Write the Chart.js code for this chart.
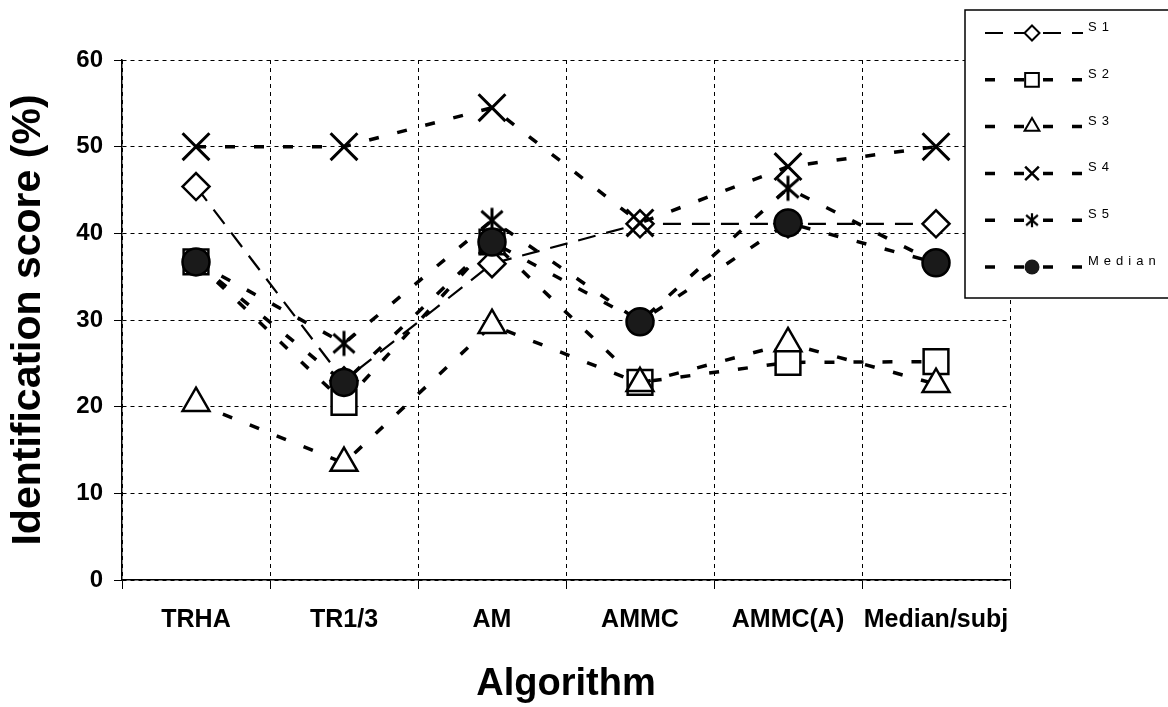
<!DOCTYPE html>
<html>
<head>
<meta charset="utf-8">
<script src="https://cdn.jsdelivr.net/npm/chart.js@4.4.1/dist/chart.umd.min.js"></script>
<style>
  html, body { margin: 0; padding: 0; background: #fff; }
  canvas { display: block; }
</style>
</head>
<body>
<canvas id="chart" width="1168" height="707"></canvas>
<script>
// values
const categories = ['TRHA', 'TR1/3', 'AM', 'AMMC', 'AMMC(A)', 'Median/subj'];
const s1 = [45.4, 23.0, 36.5, 41.1, 41.1, 41.1];
const s2 = [36.7, 20.5, 39.0, 22.8, 25.1, 25.2];
const s3 = [20.4, 13.5, 29.4, 22.7, 27.3, 22.6];
const s4 = [50.0, 50.0, 54.5, 41.2, 47.7, 50.0];
const s5 = [36.7, 27.3, 41.5, 29.8, 45.2, 36.6];
const median = [36.7, 22.8, 39.0, 29.8, 41.2, 36.6];
const yTicks = [0, 10, 20, 30, 40, 50, 60];

const FONT = "'Liberation Sans', Arial, sans-serif";

// asterisk marker (vertical bar + X), like the old Excel one
function makeStar(size, lw) {
  const c = document.createElement('canvas');
  c.width = size; c.height = size;
  const g = c.getContext('2d');
  g.strokeStyle = '#000';
  g.lineWidth = lw;
  const m = size / 2, r = size / 2 - lw / 2;
  g.beginPath();
  g.moveTo(m, m - r); g.lineTo(m, m + r);
  g.moveTo(m - r * 0.85, m - r * 0.75); g.lineTo(m + r * 0.85, m + r * 0.75);
  g.moveTo(m + r * 0.85, m - r * 0.75); g.lineTo(m - r * 0.85, m + r * 0.75);
  g.stroke();
  return c;
}
const starBig = makeStar(28, 3);
const starSmall = makeStar(16, 2.2);

function series(label, data, style, radius, fill, dash, width, order) {
  return {
    label: label,
    data: data,
    borderColor: '#000',
    borderWidth: width,
    borderDash: dash,
    fill: false,
    tension: 0,
    pointStyle: style,
    pointRadius: radius,
    pointHoverRadius: radius,
    pointBorderWidth: 2.5,
    pointBorderColor: '#000',
    pointBackgroundColor: fill,
    order: order
  };
}

const datasets = [
  series('S1', s1, 'rectRot', 13.5, '#fff', [18, 11], 2.2, 6),
  series('S2', s2, 'rect', 17.5, '#fff', [10, 19], 3.5, 5),
  series('S3', s3, 'triangle', 15.5, '#fff', [10, 19], 3.5, 4),
  series('S4', s4, 'crossRot', 19, '#fff', [10, 19], 3.5, 3),
  series('S5', s5, starBig, 14, '#fff', [10, 19], 3.5, 2),
  series('Median', median, 'circle', 13.5, '#1a1a1a', [10, 19], 3.5, 1)
];
datasets[3].pointBorderWidth = 3;

function drawMarker(ctx, style, x, y, r) {
  ctx.save();
  ctx.setLineDash([]);
  ctx.strokeStyle = '#000';
  ctx.lineWidth = 2;
  ctx.fillStyle = '#fff';
  ctx.beginPath();
  if (style === 'rectRot') {
    ctx.moveTo(x, y - r); ctx.lineTo(x + r, y); ctx.lineTo(x, y + r); ctx.lineTo(x - r, y); ctx.closePath();
    ctx.fill(); ctx.stroke();
  } else if (style === 'rect') {
    const h = r * 0.72;
    ctx.rect(x - h, y - h, 2 * h, 2 * h);
    ctx.fill(); ctx.stroke();
  } else if (style === 'triangle') {
    ctx.moveTo(x, y - r); ctx.lineTo(x + r * 0.87, y + r * 0.5); ctx.lineTo(x - r * 0.87, y + r * 0.5); ctx.closePath();
    ctx.fill(); ctx.stroke();
  } else if (style === 'crossRot') {
    const h = r * 0.72;
    ctx.lineWidth = 2.5;
    ctx.moveTo(x - h, y - h); ctx.lineTo(x + h, y + h);
    ctx.moveTo(x + h, y - h); ctx.lineTo(x - h, y + h);
    ctx.stroke();
  } else if (style === 'circle') {
    ctx.fillStyle = '#1a1a1a';
    ctx.arc(x, y, r, 0, Math.PI * 2);
    ctx.fill();
  } else {
    ctx.drawImage(starSmall, x - 8, y - 8);
  }
  ctx.restore();
}

// white page behind the chart
const whiteBg = {
  id: 'whiteBg',
  beforeDraw(chart) {
    const ctx = chart.ctx;
    ctx.save();
    ctx.fillStyle = '#fff';
    ctx.fillRect(0, 0, chart.width, chart.height);
    ctx.restore();
  }
};

// legend box in the top right corner, drawn over the plot
const boxLegend = {
  id: 'boxLegend',
  afterDraw(chart) {
    const ctx = chart.ctx;
    const left = 965, top = 10, bottom = 298;
    ctx.save();
    ctx.fillStyle = '#fff';
    ctx.fillRect(left, top, chart.width - left + 5, bottom - top);
    ctx.strokeStyle = '#000';
    ctx.lineWidth = 1.5;
    ctx.strokeRect(left, top, chart.width - left + 5, bottom - top);

    const sizes = [7.5, 9.5, 8.5, 9.5, 8, 7.5];
    chart.data.datasets.forEach((ds, i) => {
      const y = 33 + i * 46.8;
      ctx.save();
      ctx.strokeStyle = '#000';
      ctx.lineWidth = ds.borderWidth;
      ctx.setLineDash(ds.borderDash);
      ctx.beginPath();
      ctx.moveTo(985, y);
      ctx.lineTo(1083, y);
      ctx.stroke();
      ctx.restore();
      drawMarker(ctx, ds.pointStyle, 1032, y, sizes[i]);

      ctx.save();
      ctx.fillStyle = '#000';
      ctx.font = '13px ' + FONT;
      ctx.letterSpacing = '5px';
      ctx.textAlign = 'left';
      ctx.textBaseline = 'bottom';
      ctx.fillText(ds.label, 1088, y + 1);
      ctx.restore();
    });
    ctx.restore();
  }
};

new Chart(document.getElementById('chart'), {
  type: 'line',
  data: { labels: categories, datasets: datasets },
  options: {
    responsive: false,
    animation: false,
    devicePixelRatio: 1,
    layout: { padding: { top: 60, right: 158, left: 0, bottom: 0 } },
    plugins: {
      legend: { display: false },
      tooltip: { enabled: false }
    },
    scales: {
      x: {
        offset: true,
        grid: {
          offset: true,
          color: '#000',
          lineWidth: 1,
          tickLength: 9,
          tickColor: '#000',
          tickWidth: 1
        },
        border: { display: true, color: '#000', width: 1.5, dash: [4, 4] },
        ticks: {
          color: '#000',
          font: { family: FONT, size: 25, weight: 'bold' },
          padding: 16,
          maxRotation: 0,
          autoSkip: false
        },
        title: {
          display: true,
          text: 'Algorithm',
          color: '#000',
          font: { family: FONT, size: 38, weight: 'bold' },
          padding: { top: 0, bottom: 0 }
        },
        afterFit(scale) { scale.height = 127; }
      },
      y: {
        min: 0,
        max: 60,
        afterBuildTicks(scale) { scale.ticks = yTicks.map(v => ({ value: v })); },
        grid: {
          color: '#000',
          lineWidth: 1,
          tickLength: 8,
          tickColor: '#000',
          tickWidth: 1
        },
        border: { display: true, color: '#000', width: 1.5, dash: [4, 4] },
        ticks: {
          color: '#000',
          font: { family: FONT, size: 24, weight: 'bold' },
          padding: 11
        },
        title: {
          display: true,
          text: 'Identification score (%)',
          color: '#000',
          font: { family: FONT, size: 41, weight: 'bold' },
          padding: { top: 4, bottom: 0 }
        },
        afterFit(scale) { scale.width = 122; }
      }
    }
  },
  plugins: [whiteBg, boxLegend]
});
</script>
</body>
</html>
